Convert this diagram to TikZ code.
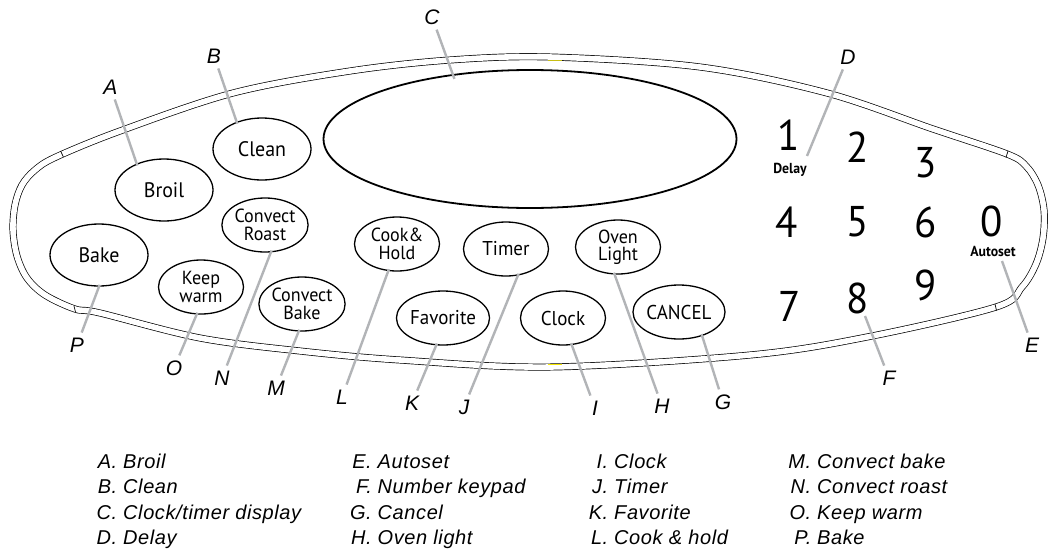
\documentclass[tikz,border=0pt]{standalone}
\usepackage{fontspec}
\setmainfont{Liberation Sans}
\newfontfamily\btnfont[FakeStretch=0.95]{PT Sans}
\newfontfamily\legfont[LetterSpace=3]{Liberation Sans}
\usetikzlibrary{shapes.geometric}
\definecolor{leadergray}{RGB}{178,180,183}
\definecolor{marktop}{RGB}{200,190,20}
\definecolor{markbot}{RGB}{245,230,0}
\tikzset{
  panel/.style={draw=black, line width=0.7pt, double=white, double distance=5.6pt},
  btn/.style={ellipse, draw, line width=1.3pt, inner sep=0pt, minimum width=85pt, minimum height=54pt,
    align=center, font=\btnfont\fontsize{20}{18}\selectfont},
  btntwo/.style={btn, font=\btnfont\fontsize{19}{17.5}\selectfont},
  bigbtn/.style={btn, minimum width=98pt, minimum height=62pt, font=\btnfont\fontsize{21}{21}\selectfont},
  keydigit/.style={inner sep=0pt, font=\btnfont\fontsize{43}{43}\selectfont},
  keysub/.style={inner sep=0pt, anchor=base, font=\btnfont\bfseries\fontsize{14.5}{14.5}\selectfont},
  lbl/.style={inner sep=5pt, font=\itshape\fontsize{21}{21}\selectfont},
  leader/.style={draw=leadergray, line width=2.4pt, shorten >=-2pt},
  legl/.style={anchor=base east, inner sep=0pt, font=\legfont\itshape\fontsize{20}{20}\selectfont},
  legt/.style={anchor=base west, inner sep=0pt, font=\legfont\itshape\fontsize{20}{20}\selectfont},
  tick/.style={line width=0.7pt},
}
\begin{document}
\begin{tikzpicture}[x=1pt,y=-1pt]
\fill[white] (0,0) rectangle (1049,552);
\useasboundingbox (0,0) rectangle (1049,552);

% panel outline
\draw[panel] plot[smooth cycle, tension=0.55] coordinates {
  (56,157) (120,131) (233,93) (350,71) (450,60) (550,57) (700,67) (827,93) (933,129)
  (1007,154) (1026,166) (1038,185) (1044,210) (1043,238) (1036,264) (1022,287) (996,307)
  (867,337) (750,355) (550,367) (400,360) (300,351) (200,338) (100,313) (75,309)
  (45,295) (27,278) (17,256) (13,230) (15,205) (22,185) (35,170)};
\draw[tick] (60.6,151) -- (63.4,157);
\draw[tick] (1008,151) -- (1006,157.5);
\draw[tick] (995,304) -- (996.5,310.5);
\draw[tick] (74,306) -- (75.5,312);
\draw[marktop, line width=1.2pt] (548,60.6) -- (562,60.6);
\draw[markbot, line width=1.2pt] (548,364.4) -- (562,364.4);

% display
\node[ellipse, draw, line width=1.8pt, minimum width=413pt, minimum height=138pt, inner sep=0pt] (display) at (530,139) {};

% buttons
\node[bigbtn] (broil) at (164,190) {Broil};
\node[bigbtn] (clean) at (262,149) {Clean};
\node[bigbtn] (bake) at (99,255) {Bake};
\node[btntwo] (croast) at (265,225) {Convect\\Roast};
\node[btntwo] (keep) at (201,287) {Keep\\warm};
\node[btntwo] (cbake) at (302,304) {Convect\\Bake};
\node[btntwo] (cook) at (397,244) {Cook\&\\Hold};
\node[btn] (timer) at (506,249) {Timer};
\node[btntwo] (oven) at (618,247) {Oven\\Light};
\node[btn] (favorite) at (443,318) {Favorite};
\node[btn] (clock) at (563,318) {Clock};
\node[btn] (cancel) at (679,312) {CANCEL};

% keypad
\node[keydigit] (k1) at (789,135.5) {1};
\node[keydigit] (k2) at (858,147) {2};
\node[keydigit] (k3) at (926,163) {3};
\node[keydigit] (k4) at (787,222) {4};
\node[keydigit] (k5) at (858,222) {5};
\node[keydigit] (k6) at (926,222) {6};
\node[keydigit] (k0) at (992,221) {0};
\node[keydigit] (k7) at (790,306) {7};
\node[keydigit] (k8) at (858,298) {8};
\node[keydigit] (k9) at (926,285) {9};
\node[keysub] (delay) at (790,173.5) {Delay};
\node[keysub] (autoset) at (993,256) {Autoset};

% labels
\node[lbl] (lA) at (110.5,87) {A};
\node[lbl] (lB) at (214,56) {B};
\node[lbl] (lC) at (432,17) {C};
\node[lbl] (lD) at (848,57) {D};
\node[lbl] (lE) at (1032,345) {E};
\node[lbl] (lF) at (889,378) {F};
\node[lbl] (lG) at (723,402) {G};
\node[lbl] (lH) at (662,406) {H};
\node[lbl] (lI) at (595,408) {I};
\node[lbl] (lJ) at (464,407) {J};
\node[lbl] (lK) at (412,403) {K};
\node[lbl] (lL) at (342,397) {L};
\node[lbl] (lM) at (276,388) {M};
\node[lbl] (lN) at (222,378) {N};
\node[lbl] (lO) at (174,368) {O};
\node[lbl] (lP) at (77,345) {P};

\coordinate (dEnd) at (807,156);
\coordinate (eEnd) at (1002,261);
\coordinate (fEnd) at (865,316);

% leaders
\draw[leader] (lA) -- (broil.136);
\draw[leader] (lB) -- (clean.133);
\draw[leader, shorten >=-5pt] (lC) -- (display.140);
\draw[leader, shorten >=0pt] (lD) -- (dEnd);
\draw[leader, shorten >=0pt] (lE) -- (eEnd);
\draw[leader, shorten >=0pt] (lF) -- (fEnd);
\draw[leader] (lG) -- (cancel.-46);
\draw[leader] (lH) -- (oven.-97);
\draw[leader] (lI) -- (clock.-72);
\draw[leader] (lJ) -- (timer.-66);
\draw[leader] (lK) -- (favorite.-104);
\draw[leader] (lL) -- (cook.-108);
\draw[leader] (lM) -- (cbake.-97);
\draw[leader] (lN) -- (croast.-78);
\draw[leader] (lO) -- (keep.-99);
\draw[leader] (lP) -- (bake.-90);

% legend
\node[legl] (gA) at (117.5,468) {A.};   \node[legt] (tA) at (123,468) {Broil};
\node[legl] (gB) at (117.5,493.5) {B.}; \node[legt] (tB) at (123,493.5) {Clean};
\node[legl] (gC) at (117.5,519) {C.};   \node[legt] (tC) at (123,519) {Clock/timer display};
\node[legl] (gD) at (117.5,544.5) {D.}; \node[legt] (tD) at (123,544.5) {Delay};
\node[legl] (gE) at (372,468) {E.};     \node[legt] (tE) at (377.5,468) {Autoset};
\node[legl] (gF) at (372,493.5) {F.};   \node[legt] (tF) at (377.5,493.5) {Number keypad};
\node[legl] (gG) at (372,519) {G.};     \node[legt] (tG) at (377.5,519) {Cancel};
\node[legl] (gH) at (372,544.5) {H.};   \node[legt] (tH) at (377.5,544.5) {Oven light};
\node[legl] (gI) at (608.5,468) {I.};   \node[legt] (tI) at (614,468) {Clock};
\node[legl] (gJ) at (608.5,493.5) {J.}; \node[legt] (tJ) at (614,493.5) {Timer};
\node[legl] (gK) at (608.5,519) {K.};   \node[legt] (tK) at (614,519) {Favorite};
\node[legl] (gL) at (608.5,544.5) {L.}; \node[legt] (tL) at (614,544.5) {Cook \& hold};
\node[legl] (gM) at (811.5,468) {M.};   \node[legt] (tM) at (817,468) {Convect bake};
\node[legl] (gN) at (811.5,493.5) {N.}; \node[legt] (tN) at (817,493.5) {Convect roast};
\node[legl] (gO) at (811.5,519) {O.};   \node[legt] (tO) at (817,519) {Keep warm};
\node[legl] (gP) at (811.5,544.5) {P.}; \node[legt] (tP) at (817,544.5) {Bake};
\end{tikzpicture}
\end{document}
